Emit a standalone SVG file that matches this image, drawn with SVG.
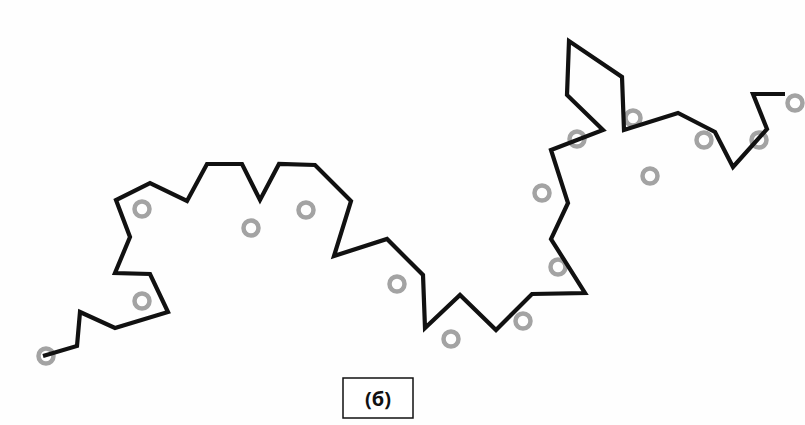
<svg xmlns="http://www.w3.org/2000/svg" width="805" height="425" viewBox="0 0 805 425">
<style>
.chain{fill:none;stroke:#111;stroke-width:4.2;stroke-linejoin:miter;stroke-linecap:butt}
.ring{fill:none;stroke:#a3a3a3;stroke-width:4.5}
.lbl{font-family:"Open Sans","Liberation Sans",sans-serif;font-weight:bold;font-size:20px;fill:#111}
</style>
<rect width="805" height="425" fill="#fefefe"/>
<g id="rings">
<circle class="ring" cx="46" cy="356" r="7.5"/>
<circle class="ring" cx="142" cy="209" r="7.5"/>
<circle class="ring" cx="142" cy="301" r="7.5"/>
<circle class="ring" cx="251" cy="228" r="7.5"/>
<circle class="ring" cx="306" cy="210" r="7.5"/>
<circle class="ring" cx="397" cy="284" r="7.5"/>
<circle class="ring" cx="451" cy="339" r="7.5"/>
<circle class="ring" cx="523" cy="321" r="7.5"/>
<circle class="ring" cx="558" cy="267" r="7.5"/>
<circle class="ring" cx="542" cy="193" r="7.5"/>
<circle class="ring" cx="577" cy="139" r="7.5"/>
<circle class="ring" cx="633" cy="118" r="7.5"/>
<circle class="ring" cx="650" cy="176" r="7.5"/>
<circle class="ring" cx="704" cy="140" r="7.5"/>
<circle class="ring" cx="759" cy="140" r="7.5"/>
<circle class="ring" cx="795" cy="103" r="7.5"/>
</g>
<g id="chain">
<polyline class="chain" points="43,356 77,346 80,312 115,328 168,312 150,274 115,273 130,237 116,200 150,183 187,201 207,164 242,164 260,200 279,164 315,165 351,201 334,256 387,239 423,275 425,328 460,295 496,330 532,294 585,293 551,239 568,203 551,150 603,130 567,95 569,41 622,77 624,130 678,113 715,132 733,167 767,129 753,94 785,94"/>
</g>
<g id="label">
<rect x="343" y="378" width="70" height="40" fill="#fff" stroke="#111" stroke-width="1.5"/>
<text class="lbl" x="378" y="406" text-anchor="middle">(б)</text>
</g>
</svg>
